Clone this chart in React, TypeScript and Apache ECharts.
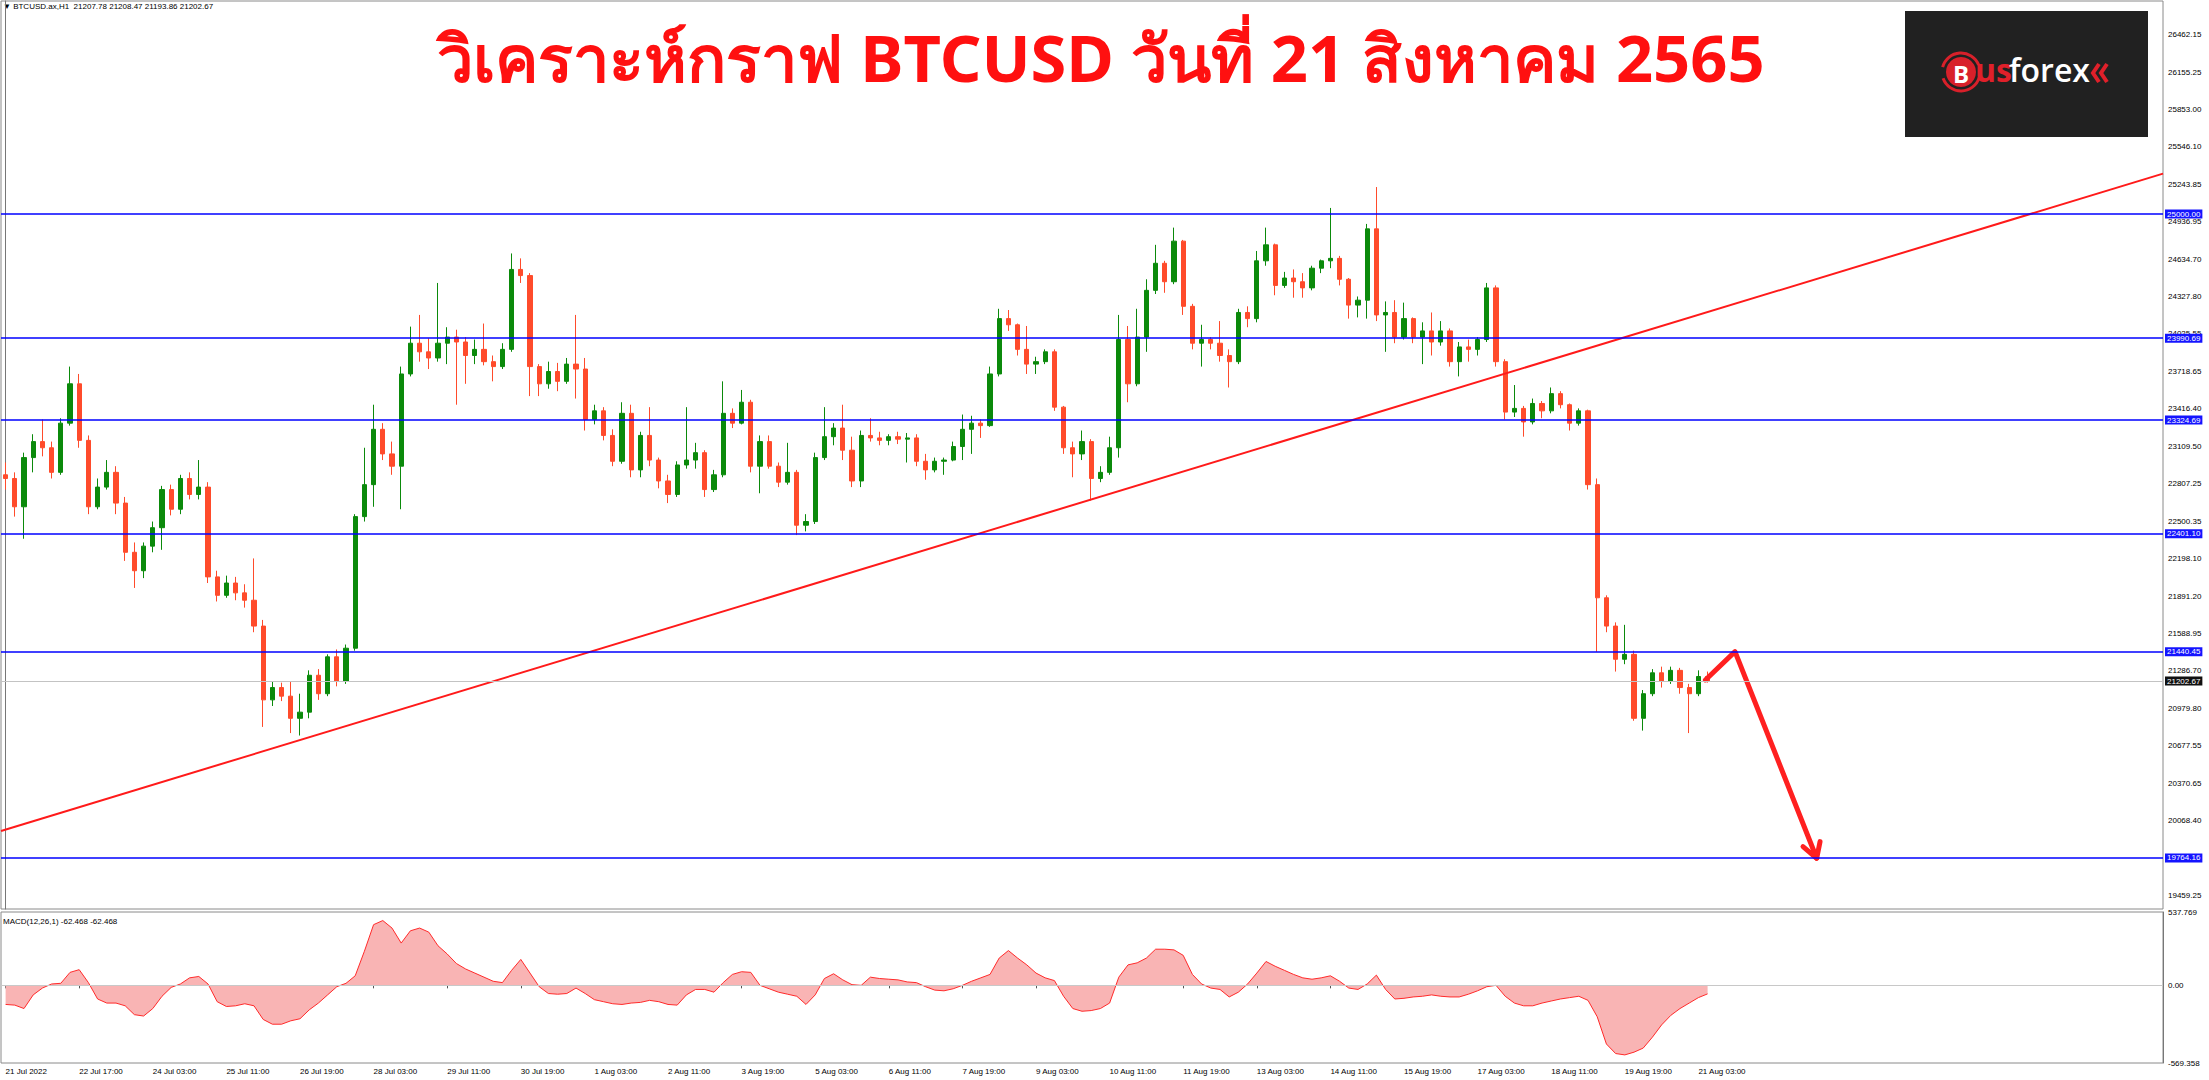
import React, { useEffect, useRef } from 'react';
import * as echarts from 'echarts';

// 4-hour bars (21 Jul 2022 -> 21 Aug 2022)
const barOpen = [22880,22850,22620,23020,23150,23100,22900,23300,23620,23160,22620,22780,22900,22650,22250,22100,22300,22450,22760,22600,22850,22720,22780,22050,21900,22000,21920,21860,21650,21050,21150,21080,20900,20950,21250,21100,21400,21200,21470,22540,22800,23250,23050,22950,23700,23950,23880,23830,23950,24000,23960,23850,23900,23800,23760,23900,24550,24500,23760,23620,23720,23640,23780,23740,23330,23400,23200,22990,23380,22920,23200,23000,22830,22720,22960,23000,23060,22760,22880,23380,23300,23470,22950,23150,22950,22820,22900,22470,22500,23020,23190,23260,23080,22830,23200,23180,23160,23190,23170,23180,22990,22920,22990,23000,23110,23250,23300,23280,23700,24150,24100,23900,23780,23800,23880,23430,23100,23050,23150,22850,22900,23100,23980,23620,24000,24380,24600,24450,24780,24250,23950,23980,23950,23850,23800,24200,24150,24620,24750,24420,24480,24450,24400,24560,24620,24640,24470,24260,24300,24880,24180,24200,24000,24150,24000,24050,23960,24050,23800,23920,23900,23980,24400,23800,23390,23420,23310,23460,23400,23540,23450,23300,23400,22800,21880,21650,21380,21420,20900,21100,21270,21200,21290,21150,21100,21240];
const barHigh = [22980,22900,23060,23210,23330,23150,23340,23760,23700,23200,22850,23000,22950,22700,22330,22330,22500,22790,22800,22880,22900,23000,22820,22100,22060,22050,21990,22200,21700,21200,21190,21200,21100,21290,21300,21420,21460,21500,22560,23100,23450,23300,23150,23760,24085,24180,23990,24440,24080,24060,24000,23980,24110,23850,23950,24680,24640,24520,23780,23800,23790,23830,24180,23830,23450,23430,23250,23470,23450,23230,23430,23020,22880,22990,23430,23140,23080,22920,23640,23420,23570,23490,23200,23200,22980,23140,22920,22560,23060,23430,23300,23450,23190,23240,23340,23230,23210,23230,23220,23210,23050,23020,23020,23150,23370,23360,23330,23760,24230,24220,24110,24090,23840,23900,23900,23440,23150,23240,23170,22950,23190,24180,24090,24230,24470,24750,24620,24890,24790,24270,24100,24000,24130,23900,24230,24250,24700,24890,24760,24530,24550,24520,24580,24630,25050,24660,24480,24330,24920,25220,24290,24300,24280,24160,24120,24200,24130,24070,23960,23980,24000,24440,24420,23820,23610,23440,23500,23480,23590,23560,23460,23420,23410,22850,21900,21680,21660,21450,21130,21300,21320,21320,21310,21180,21290,21280];
const barLow = [22760,22540,22360,22900,23030,22850,22880,23280,23100,22560,22600,22760,22560,22180,21960,22040,22250,22270,22550,22560,22680,22680,22000,21850,21880,21860,21800,21600,20830,21000,21040,20780,20760,20900,21050,21080,21160,21180,21450,22500,22620,23000,22880,22600,23680,23800,23740,23800,23780,23450,23620,23780,23770,23640,23740,23880,24440,23520,23520,23580,23560,23620,23500,23240,23290,23160,22950,22970,22860,22860,22950,22770,22650,22700,22930,22930,22700,22740,22860,23260,23290,22900,22730,22930,22780,22800,22390,22420,22480,23000,23120,23000,22780,22780,23150,23120,23120,23130,22980,22950,22840,22900,22880,22990,23000,23050,23180,23270,23680,24050,23850,23700,23700,23780,23400,23050,22860,23000,22670,22820,22880,23020,23470,23600,23880,24350,24360,24430,24180,23900,23760,23900,23800,23590,23780,24080,24120,24580,24340,24400,24320,24320,24380,24520,24560,24420,24150,24160,24150,24130,23880,23950,23980,23950,23780,23850,23930,23760,23680,23800,23850,23960,23760,23330,23350,23190,23290,23340,23380,23420,23240,23280,22760,21440,21600,21280,21340,20880,20800,21080,21150,21180,21100,20780,21080,21190];
const barClose = [22850,22620,23020,23150,23100,22900,23300,23620,23160,22620,22780,22900,22650,22250,22100,22300,22450,22760,22600,22850,22720,22780,22050,21900,22000,21920,21860,21650,21050,21150,21080,20900,20950,21250,21100,21400,21200,21470,22540,22800,23250,23050,22950,23700,23950,23880,23830,23950,24000,23960,23850,23900,23800,23760,23900,24550,24500,23760,23620,23720,23640,23780,23740,23330,23400,23200,22990,23380,22920,23200,23000,22830,22720,22960,23000,23060,22760,22880,23380,23300,23470,22950,23150,22950,22820,22900,22470,22500,23020,23190,23260,23080,22830,23200,23180,23160,23190,23170,23180,22990,22920,22990,23000,23110,23250,23300,23280,23700,24150,24100,23900,23780,23800,23880,23430,23100,23050,23150,22850,22900,23100,23980,23620,24000,24380,24600,24450,24780,24250,23950,23980,23950,23850,23800,24200,24150,24620,24750,24420,24480,24450,24400,24560,24620,24640,24470,24260,24300,24880,24180,24200,24000,24150,24000,24050,23960,24050,23800,23920,23900,23980,24400,23800,23390,23420,23310,23460,23400,23540,23450,23300,23400,22800,21880,21650,21380,21420,20900,21100,21270,21200,21290,21150,21100,21240,21202.67];
const macdHist = [-140,-145,-170,-70,-20,10,15,95,115,20,-100,-130,-130,-150,-215,-225,-170,-80,-15,10,55,65,10,-120,-155,-150,-135,-150,-250,-285,-285,-260,-245,-180,-130,-70,-10,15,70,250,445,475,420,310,400,420,390,290,230,160,120,90,60,30,20,110,190,90,-10,-60,-65,-60,-20,-60,-105,-120,-135,-140,-130,-125,-110,-120,-140,-145,-70,-30,-30,-50,20,80,100,95,0,-25,-50,-65,-80,-140,-70,50,85,40,5,0,60,50,45,40,25,20,-10,-35,-40,-25,0,30,55,80,200,255,200,150,90,55,35,-80,-170,-190,-185,-170,-130,60,150,165,200,265,265,260,220,80,10,-20,-30,-85,-50,10,90,175,140,110,80,55,45,55,70,30,-20,-30,10,75,-30,-100,-95,-85,-80,-70,-80,-85,-85,-65,-40,-10,0,-80,-130,-150,-150,-130,-115,-100,-90,-80,-110,-230,-430,-500,-510,-490,-460,-380,-290,-220,-170,-130,-90,-62.468];

const xTickLabels = ['21 Jul 2022','22 Jul 17:00','24 Jul 03:00','25 Jul 11:00','26 Jul 19:00','28 Jul 03:00','29 Jul 11:00','30 Jul 19:00','1 Aug 03:00','2 Aug 11:00','3 Aug 19:00','5 Aug 03:00','6 Aug 11:00','7 Aug 19:00','9 Aug 03:00','10 Aug 11:00','11 Aug 19:00','13 Aug 03:00','14 Aug 11:00','15 Aug 19:00','17 Aug 03:00','18 Aug 11:00','19 Aug 19:00','21 Aug 03:00'];
const priceTicks = [26462.15,26155.25,25853.00,25546.10,25243.85,24936.95,24634.70,24327.80,24025.55,23718.65,23416.40,23109.50,22807.25,22500.35,22198.10,21891.20,21588.95,21286.70,20979.80,20677.55,20370.65,20068.40,19459.25];
const macdTicks = [537.769, 0, -569.358];
const levelLines = [25000.00, 23990.69, 23324.69, 22401.10, 21440.45, 19764.16];
const currentPrice = 21202.67;
const trendLine = [[-0.5, 19984], [234.5, 25329]];
const arrowPath = [[184.76, 21212], [187.98, 21442], [196.86, 19762]];
const arrowHead = [[195.37, 19856], [196.86, 19762], [197.22, 19897]];
const headerText = '\u25BC BTCUSD.ax,H1  21207.78 21208.47 21193.86 21202.67';
const macdText = 'MACD(12,26,1) -62.468 -62.468';
const titleText = 'วิเคราะห์กราฟ BTCUSD วันที่ 21 สิงหาคม 2565';
const slotCount = 235;

const AX_FONT = '"Liberation Sans", "DejaVu Sans", sans-serif';

export default function App() {
  const ref = useRef<HTMLDivElement>(null);
  useEffect(() => {
    if (!ref.current) return;
    const chart = echarts.init(ref.current, undefined, { renderer: 'svg' });
    const cats = Array.from({ length: slotCount }, (_, i) => String(i));
    const candleData = barOpen.map((o, i) => [o, barClose[i], barLow[i], barHigh[i]]);
    const tickShow = (idx: number) => idx % 8 === 0 && idx / 8 < xTickLabels.length;

    const option: any = {
      animation: false,
      backgroundColor: '#ffffff',
      grid: [
        { left: 1, right: 46, top: 1, height: 908, show: true, borderColor: '#8a8a8a', borderWidth: 1, backgroundColor: 'transparent' },
        { left: 1, right: 46, top: 912, height: 151, show: true, borderColor: '#8a8a8a', borderWidth: 1, backgroundColor: 'transparent' },
      ],
      xAxis: [
        { type: 'category', gridIndex: 0, data: cats, boundaryGap: true, axisLine: { show: false }, axisTick: { show: false }, axisLabel: { show: false }, splitLine: { show: false } },
        { type: 'value', gridIndex: 0, min: -0.5, max: slotCount - 0.5, show: false, splitLine: { show: false } },
        {
          type: 'category', gridIndex: 1, data: cats, boundaryGap: true, position: 'bottom',
          axisLine: { show: false },
          axisTick: { show: true, interval: (idx: number) => tickShow(idx), length: 3, lineStyle: { color: '#555' }, alignWithLabel: true },
          axisLabel: {
            show: true, interval: (idx: number) => tickShow(idx), align: 'left', margin: 4,
            fontSize: 8, fontFamily: AX_FONT, color: '#000',
            formatter: (_v: string, idx: number) => (tickShow(idx) ? xTickLabels[idx / 8] : ''),
          },
          splitLine: { show: false },
        },
      ],
      yAxis: [
        {
          type: 'value', gridIndex: 0, position: 'right', min: 19349.4, max: 26732.7,
          axisLine: { show: true, lineStyle: { color: '#777' } },
          axisTick: { show: false },
          axisLabel: { show: true, customValues: priceTicks, fontSize: 8, fontFamily: AX_FONT, color: '#000', margin: 5, formatter: (v: number) => v.toFixed(2) },
          splitLine: { show: false },
        },
        {
          type: 'value', gridIndex: 1, position: 'right', min: -569.358, max: 537.769,
          axisLine: { show: true, lineStyle: { color: '#777' } },
          axisTick: { show: false },
          axisLabel: { show: true, customValues: macdTicks, fontSize: 8, fontFamily: AX_FONT, color: '#000', margin: 5, formatter: (v: number) => (v === 0 ? '0.00' : v.toFixed(3)) },
          splitLine: { show: false },
        },
      ],
      series: [
        {
          type: 'candlestick', xAxisIndex: 0, yAxisIndex: 0, data: candleData, barWidth: '50%',
          itemStyle: { color: '#0b8a0b', color0: '#ff4b2b', borderColor: '#0b8a0b', borderColor0: '#ff4b2b', borderWidth: 1 },
          markLine: {
            silent: true, symbol: ['none', 'none'], animation: false,
            data: [
              ...levelLines.map((v) => ({
                yAxis: v,
                lineStyle: { color: '#0000ff', width: 1.5, type: 'solid' },
                label: { show: true, position: 'end', distance: 2, formatter: v.toFixed(2), color: '#fff', backgroundColor: '#1414ff', padding: [1, 2, 0, 2], fontSize: 8, fontFamily: AX_FONT },
              })),
              {
                yAxis: currentPrice,
                lineStyle: { color: '#c3c3c3', width: 1, type: 'solid' },
                label: { show: true, position: 'end', distance: 2, formatter: currentPrice.toFixed(2), color: '#fff', backgroundColor: '#111', padding: [1, 2, 0, 2], fontSize: 8, fontFamily: AX_FONT },
              },
            ],
          },
        },
        {
          type: 'line', xAxisIndex: 1, yAxisIndex: 0, data: trendLine, symbol: 'none', silent: true,
          lineStyle: { color: '#ff1a1a', width: 2 },
        },
        {
          type: 'line', xAxisIndex: 1, yAxisIndex: 0, data: arrowPath, symbol: 'none', silent: true,
          lineStyle: { color: '#ff2020', width: 5, cap: 'round', join: 'round' },
        },
        {
          type: 'line', xAxisIndex: 1, yAxisIndex: 0, data: arrowHead, symbol: 'none', silent: true,
          lineStyle: { color: '#ff2020', width: 5, cap: 'round', join: 'round' },
        },
        {
          type: 'line', xAxisIndex: 2, yAxisIndex: 1, data: macdHist, symbol: 'none', silent: true,
          lineStyle: { color: '#ff2a2a', width: 1 },
          areaStyle: { color: '#f9b4b4', opacity: 1 },
          markLine: {
            silent: true, symbol: ['none', 'none'],
            data: [{ yAxis: 0 }],
            lineStyle: { color: '#c8c8c8', width: 1, type: 'solid' },
            label: { show: false },
          },
        },
      ],
      graphic: [
        { type: 'text', left: 3, top: 2, style: { text: headerText, fontSize: 8, fontFamily: AX_FONT, fill: '#000' } },
        { type: 'text', left: 3, top: 917, style: { text: macdText, fontSize: 8, fontFamily: AX_FONT, fill: '#000' } },
        {
          type: 'text', x: 1101, y: 57,
          style: { text: titleText, align: 'center', verticalAlign: 'middle', fontSize: 65, fontWeight: 'bold', fontFamily: '"Noto Sans", "DejaVu Sans", sans-serif', fill: '#ff1010' },
        },
        {
          type: 'group', x: 0, y: 0,
          children: [
            { type: 'rect', shape: { x: 1905, y: 11, width: 243, height: 126 }, style: { fill: '#212121' } },
            { type: 'arc', shape: { cx: 1961, cy: 72, r: 19, startAngle: 0.3, endAngle: 2.8 }, style: { stroke: '#d8202a', lineWidth: 3, fill: 'none' } },
            { type: 'arc', shape: { cx: 1961, cy: 72, r: 19, startAngle: 3.4, endAngle: 5.9 }, style: { stroke: '#d8202a', lineWidth: 3, fill: 'none' } },
            { type: 'circle', shape: { cx: 1961, cy: 72, r: 15 }, style: { fill: '#d8202a' } },
            { type: 'text', x: 1961, y: 73, style: { text: 'B', align: 'center', verticalAlign: 'middle', fontSize: 24, fontWeight: 'bold', fontFamily: '"Open Sans", sans-serif', fill: '#ffffff' } },
            { type: 'text', x: 1975, y: 69, style: { text: 'us', verticalAlign: 'middle', fontSize: 32, fontWeight: 'bold', fontFamily: '"Open Sans", sans-serif', fill: '#e0202a' } },
            { type: 'text', x: 2009, y: 69, style: { text: 'forex', verticalAlign: 'middle', fontSize: 32, fontWeight: 600, fontFamily: '"Open Sans", sans-serif', fill: '#ffffff' } },
            { type: 'polyline', shape: { points: [[2099, 64], [2093, 73], [2099, 82]] }, style: { stroke: '#e0202a', lineWidth: 4, fill: 'none' } },
            { type: 'polyline', shape: { points: [[2107, 64], [2101, 73], [2107, 82]] }, style: { stroke: '#e0202a', lineWidth: 4, fill: 'none' } },
          ],
        },
      ],
    };
    chart.setOption(option);
    return () => chart.dispose();
  }, []);
  return <div ref={ref} style={{ position: 'fixed', left: 0, top: 0, width: 2209, height: 1080, background: '#fff' }} />;
}
